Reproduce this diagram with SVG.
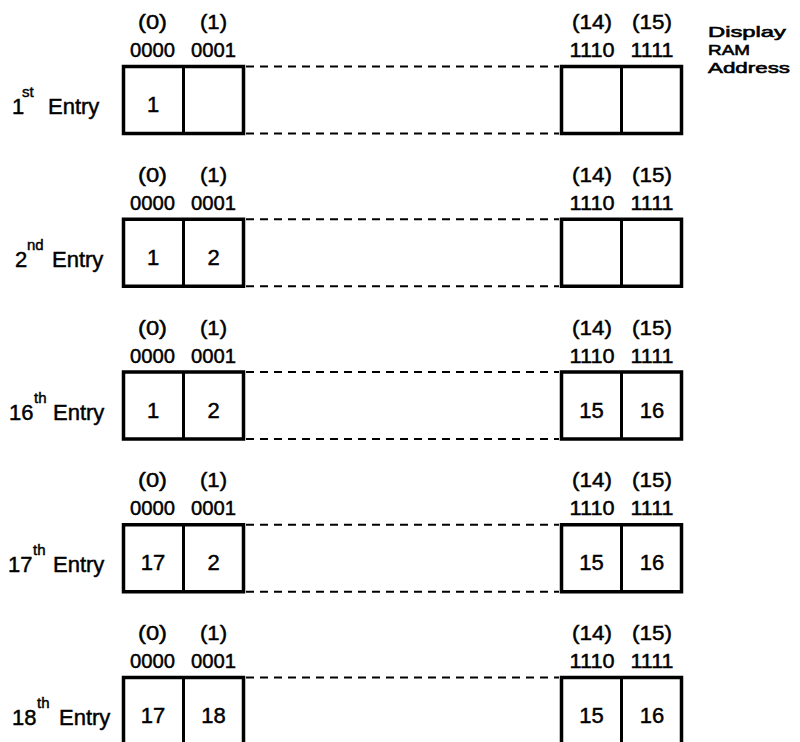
<svg xmlns="http://www.w3.org/2000/svg" width="800" height="742" viewBox="0 0 800 742">
<style>
text{font-family:"Liberation Sans",Arial,sans-serif;fill:#000;stroke:#000;stroke-width:0.45}
.addr{font-size:20px;text-anchor:middle}
.num{font-size:22px;text-anchor:middle}
.lbl{font-size:22px}
.sup{font-size:15px}
.side{font-size:15.5px;stroke-width:0.6}
.box{fill:#fff;stroke:#000;stroke-width:3.5}
.div{stroke:#000;stroke-width:3}
.dash{stroke:#000;stroke-width:2;stroke-dasharray:8 6;fill:none}
</style>
<rect width="800" height="742" fill="#fff"/>
<defs>
<g id="cells">
<rect class="box" x="0" y="0" width="120" height="67"/>
<line class="div" x1="60" y1="0" x2="60" y2="67"/>
</g>
<g id="cellsCut">
<rect class="box" x="0" y="0" width="120" height="90"/>
<line class="div" x1="60" y1="0" x2="60" y2="90"/>
</g>
</defs>
<g id="connectors">
<line class="dash" x1="246" y1="66.5" x2="559" y2="66.5"/>
<line class="dash" x1="246" y1="133.5" x2="559" y2="133.5"/>
<line class="dash" x1="246" y1="219.25" x2="559" y2="219.25"/>
<line class="dash" x1="246" y1="286.25" x2="559" y2="286.25"/>
<line class="dash" x1="246" y1="372" x2="559" y2="372"/>
<line class="dash" x1="246" y1="439" x2="559" y2="439"/>
<line class="dash" x1="246" y1="524.75" x2="559" y2="524.75"/>
<line class="dash" x1="246" y1="591.75" x2="559" y2="591.75"/>
<line class="dash" x1="246" y1="677.5" x2="559" y2="677.5"/>
</g>
<g id="legend">
<text class="side" x="708" y="36.5" textLength="78" lengthAdjust="spacingAndGlyphs">Display</text>
<text class="side" x="708" y="54.5" textLength="42" lengthAdjust="spacingAndGlyphs">RAM</text>
<text class="side" x="708" y="72.5" textLength="82" lengthAdjust="spacingAndGlyphs">Address</text>
</g>
<g id="row1" transform="translate(0,0)">
<text class="addr" x="152.5" y="29" textLength="29" lengthAdjust="spacingAndGlyphs">(0)</text>
<text class="addr" x="213.5" y="29" textLength="27" lengthAdjust="spacingAndGlyphs">(1)</text>
<text class="addr" x="152.5" y="57" textLength="45" lengthAdjust="spacingAndGlyphs">0000</text>
<text class="addr" x="213.5" y="57" textLength="45" lengthAdjust="spacingAndGlyphs">0001</text>
<text class="addr" x="592" y="29" textLength="40" lengthAdjust="spacingAndGlyphs">(14)</text>
<text class="addr" x="652" y="29" textLength="40" lengthAdjust="spacingAndGlyphs">(15)</text>
<text class="addr" x="592" y="57" textLength="45" lengthAdjust="spacingAndGlyphs">1110</text>
<text class="addr" x="652" y="57" textLength="43" lengthAdjust="spacingAndGlyphs">1111</text>
<use href="#cells" x="123.5" y="66.5"/>
<use href="#cells" x="561.5" y="66.5"/>
<text class="num" x="153" y="112">1</text>
<text class="lbl" x="12" y="114">1</text>
<text class="sup" x="22" y="97">st</text>
<text class="lbl" x="48" y="114">Entry</text>
</g>
<g id="row2" transform="translate(0,152.75)">
<text class="addr" x="152.5" y="29" textLength="29" lengthAdjust="spacingAndGlyphs">(0)</text>
<text class="addr" x="213.5" y="29" textLength="27" lengthAdjust="spacingAndGlyphs">(1)</text>
<text class="addr" x="152.5" y="57" textLength="45" lengthAdjust="spacingAndGlyphs">0000</text>
<text class="addr" x="213.5" y="57" textLength="45" lengthAdjust="spacingAndGlyphs">0001</text>
<text class="addr" x="592" y="29" textLength="40" lengthAdjust="spacingAndGlyphs">(14)</text>
<text class="addr" x="652" y="29" textLength="40" lengthAdjust="spacingAndGlyphs">(15)</text>
<text class="addr" x="592" y="57" textLength="45" lengthAdjust="spacingAndGlyphs">1110</text>
<text class="addr" x="652" y="57" textLength="43" lengthAdjust="spacingAndGlyphs">1111</text>
<use href="#cells" x="123.5" y="66.5"/>
<use href="#cells" x="561.5" y="66.5"/>
<text class="num" x="153" y="112">1</text>
<text class="num" x="213.5" y="112">2</text>
<text class="lbl" x="15" y="114">2</text>
<text class="sup" x="27" y="97">nd</text>
<text class="lbl" x="52" y="114">Entry</text>
</g>
<g id="row3" transform="translate(0,305.5)">
<text class="addr" x="152.5" y="29" textLength="29" lengthAdjust="spacingAndGlyphs">(0)</text>
<text class="addr" x="213.5" y="29" textLength="27" lengthAdjust="spacingAndGlyphs">(1)</text>
<text class="addr" x="152.5" y="57" textLength="45" lengthAdjust="spacingAndGlyphs">0000</text>
<text class="addr" x="213.5" y="57" textLength="45" lengthAdjust="spacingAndGlyphs">0001</text>
<text class="addr" x="592" y="29" textLength="40" lengthAdjust="spacingAndGlyphs">(14)</text>
<text class="addr" x="652" y="29" textLength="40" lengthAdjust="spacingAndGlyphs">(15)</text>
<text class="addr" x="592" y="57" textLength="45" lengthAdjust="spacingAndGlyphs">1110</text>
<text class="addr" x="652" y="57" textLength="43" lengthAdjust="spacingAndGlyphs">1111</text>
<use href="#cells" x="123.5" y="66.5"/>
<use href="#cells" x="561.5" y="66.5"/>
<text class="num" x="153" y="112">1</text>
<text class="num" x="213.5" y="112">2</text>
<text class="num" x="591.5" y="112">15</text>
<text class="num" x="652" y="112">16</text>
<text class="lbl" x="9" y="114">16</text>
<text class="sup" x="34" y="97">th</text>
<text class="lbl" x="53" y="114">Entry</text>
</g>
<g id="row4" transform="translate(0,458.25)">
<text class="addr" x="152.5" y="29" textLength="29" lengthAdjust="spacingAndGlyphs">(0)</text>
<text class="addr" x="213.5" y="29" textLength="27" lengthAdjust="spacingAndGlyphs">(1)</text>
<text class="addr" x="152.5" y="57" textLength="45" lengthAdjust="spacingAndGlyphs">0000</text>
<text class="addr" x="213.5" y="57" textLength="45" lengthAdjust="spacingAndGlyphs">0001</text>
<text class="addr" x="592" y="29" textLength="40" lengthAdjust="spacingAndGlyphs">(14)</text>
<text class="addr" x="652" y="29" textLength="40" lengthAdjust="spacingAndGlyphs">(15)</text>
<text class="addr" x="592" y="57" textLength="45" lengthAdjust="spacingAndGlyphs">1110</text>
<text class="addr" x="652" y="57" textLength="43" lengthAdjust="spacingAndGlyphs">1111</text>
<use href="#cells" x="123.5" y="66.5"/>
<use href="#cells" x="561.5" y="66.5"/>
<text class="num" x="153" y="112">17</text>
<text class="num" x="213.5" y="112">2</text>
<text class="num" x="591.5" y="112">15</text>
<text class="num" x="652" y="112">16</text>
<text class="lbl" x="8" y="114">17</text>
<text class="sup" x="33" y="97">th</text>
<text class="lbl" x="53" y="114">Entry</text>
</g>
<g id="row5" transform="translate(0,611)">
<text class="addr" x="152.5" y="29" textLength="29" lengthAdjust="spacingAndGlyphs">(0)</text>
<text class="addr" x="213.5" y="29" textLength="27" lengthAdjust="spacingAndGlyphs">(1)</text>
<text class="addr" x="152.5" y="57" textLength="45" lengthAdjust="spacingAndGlyphs">0000</text>
<text class="addr" x="213.5" y="57" textLength="45" lengthAdjust="spacingAndGlyphs">0001</text>
<text class="addr" x="592" y="29" textLength="40" lengthAdjust="spacingAndGlyphs">(14)</text>
<text class="addr" x="652" y="29" textLength="40" lengthAdjust="spacingAndGlyphs">(15)</text>
<text class="addr" x="592" y="57" textLength="45" lengthAdjust="spacingAndGlyphs">1110</text>
<text class="addr" x="652" y="57" textLength="43" lengthAdjust="spacingAndGlyphs">1111</text>
<use href="#cellsCut" x="123.5" y="66.5"/>
<use href="#cellsCut" x="561.5" y="66.5"/>
<text class="num" x="153" y="112">17</text>
<text class="num" x="213.5" y="112">18</text>
<text class="num" x="591.5" y="112">15</text>
<text class="num" x="652" y="112">16</text>
<text class="lbl" x="12" y="114">18</text>
<text class="sup" x="37" y="97">th</text>
<text class="lbl" x="59" y="114">Entry</text>
</g>
</svg>
